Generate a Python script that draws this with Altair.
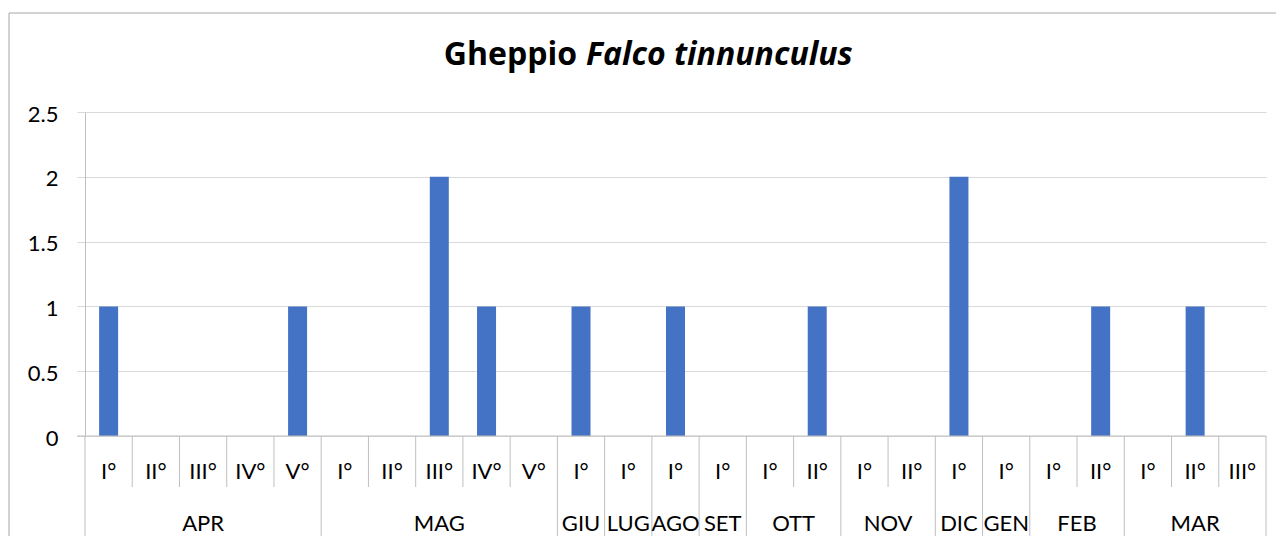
import altair as alt
import pandas as pd

# ---- data ----
periods = ["I°", "II°", "III°", "IV°", "V°",
           "I°", "II°", "III°", "IV°", "V°",
           "I°", "I°", "I°", "I°",
           "I°", "II°",
           "I°", "II°",
           "I°", "I°",
           "I°", "II°",
           "I°", "II°", "III°"]
values = [1, 0, 0, 0, 1,
          0, 0, 2, 1, 0,
          1, 0, 1, 0,
          0, 1,
          0, 0,
          2, 0,
          0, 1,
          0, 1, 0]
months = ["APR", "MAG", "GIU", "LUG", "AGO", "SET", "OTT", "NOV", "DIC", "GEN", "FEB", "MAR"]
month_sizes = [5, 5, 1, 1, 1, 1, 2, 2, 1, 1, 2, 3]
y_ticks = [0, 0.5, 1, 1.5, 2, 2.5]
title_main = "Gheppio"
title_latin = "Falco tinnunculus"

FONT = "Lato"
TFONT = "Open Sans"
FS = 22
W, H = 1181, 324
N = len(periods)

cats = pd.DataFrame({"idx": list(range(N)), "period": periods, "value": values})

starts = []
s = 0
for n in month_sizes:
    starts.append(s)
    s += n
mdf = pd.DataFrame({"month": months, "start": starts, "size": month_sizes})

group_bounds = set(starts + [N])
bdf = pd.DataFrame({"b": list(range(N + 1))})
bdf["long"] = bdf["b"].apply(lambda v: v in group_bounds)

xscale = alt.Scale(domain=[0, N], nice=False, zero=False, padding=0)
yscale = alt.Scale(domain=[0, 2.5], nice=False, padding=0)

GRID = "#D9D9D9"
SEP = "#BFBFBF"

bars = alt.Chart(cats).transform_calculate(xc="datum.idx + 0.5").mark_bar(
    size=19, color="#4472C4"
).encode(
    x=alt.X("xc:Q", scale=xscale, axis=None),
    y=alt.Y("value:Q", scale=yscale,
            axis=alt.Axis(values=y_ticks, title=None, grid=True, gridColor=GRID,
                          tickColor=GRID, tickSize=8, domainColor=SEP, format="~g",
                          labelFont=FONT, labelFontSize=FS, labelColor="#000000",
                          labelPadding=19, labelAlign="right", labelBaseline="middle",
                          labelOffset=2)),
)

zero_line = alt.Chart(pd.DataFrame({"z": [0]})).mark_rule(color=SEP, strokeWidth=1).encode(
    y=alt.Y("z:Q", scale=yscale), x=alt.value(-8), x2=alt.value(W)
)

short_sep = alt.Chart(bdf).transform_filter("!datum.long").mark_rule(color=SEP).encode(
    x=alt.X("b:Q", scale=xscale), y=alt.value(H), y2=alt.value(H + 51)
)
long_sep = alt.Chart(bdf).transform_filter("datum.long").mark_rule(color=SEP).encode(
    x=alt.X("b:Q", scale=xscale), y=alt.value(H), y2=alt.value(H + 104)
)

period_text = alt.Chart(cats).transform_calculate(xc="datum.idx + 0.5").mark_text(
    font=FONT, fontSize=FS, color="#000000", baseline="middle", align="center"
).encode(
    x=alt.X("xc:Q", scale=xscale), y=alt.value(H + 36), text="period:N"
)

month_text = alt.Chart(mdf).transform_calculate(xc="datum.start + datum.size / 2").mark_text(
    font=FONT, fontSize=FS, color="#000000", baseline="middle", align="center"
).encode(
    x=alt.X("xc:Q", scale=xscale), y=alt.value(H + 88), text="month:N"
)

tdf = pd.DataFrame({"t1": [title_main], "t2": [title_latin]})
t1 = alt.Chart(tdf).mark_text(font=TFONT, fontSize=32, fontWeight="bold", align="right",
                              baseline="alphabetic", color="#000000").encode(
    x=alt.value(492), y=alt.value(-47), text="t1:N")
t2 = alt.Chart(tdf).mark_text(font=TFONT, fontSize=32, fontWeight="bold", fontStyle="italic",
                              align="left", baseline="alphabetic", color="#000000").encode(
    x=alt.value(501), y=alt.value(-47), text="t2:N")

border_v = alt.Chart(tdf).mark_rule(color="#A6A6A6").encode(
    x=alt.value(-76), y=alt.value(-99), y2=alt.value(H + 110))
border_h = alt.Chart(tdf).mark_rule(color="#A6A6A6").encode(
    x=alt.value(-76), x2=alt.value(W + 20), y=alt.value(-99))

chart = alt.layer(
    border_v, border_h, bars, zero_line, short_sep, long_sep, period_text, month_text, t1, t2
).properties(
    width=W, height=H,
    padding={"left": 77, "top": 104, "right": 10, "bottom": 100},
    autosize=alt.AutoSizeParams(type="none"),
).configure_view(stroke=None)

chart.save("out.html", embed_options={"renderer": "svg", "actions": False})
